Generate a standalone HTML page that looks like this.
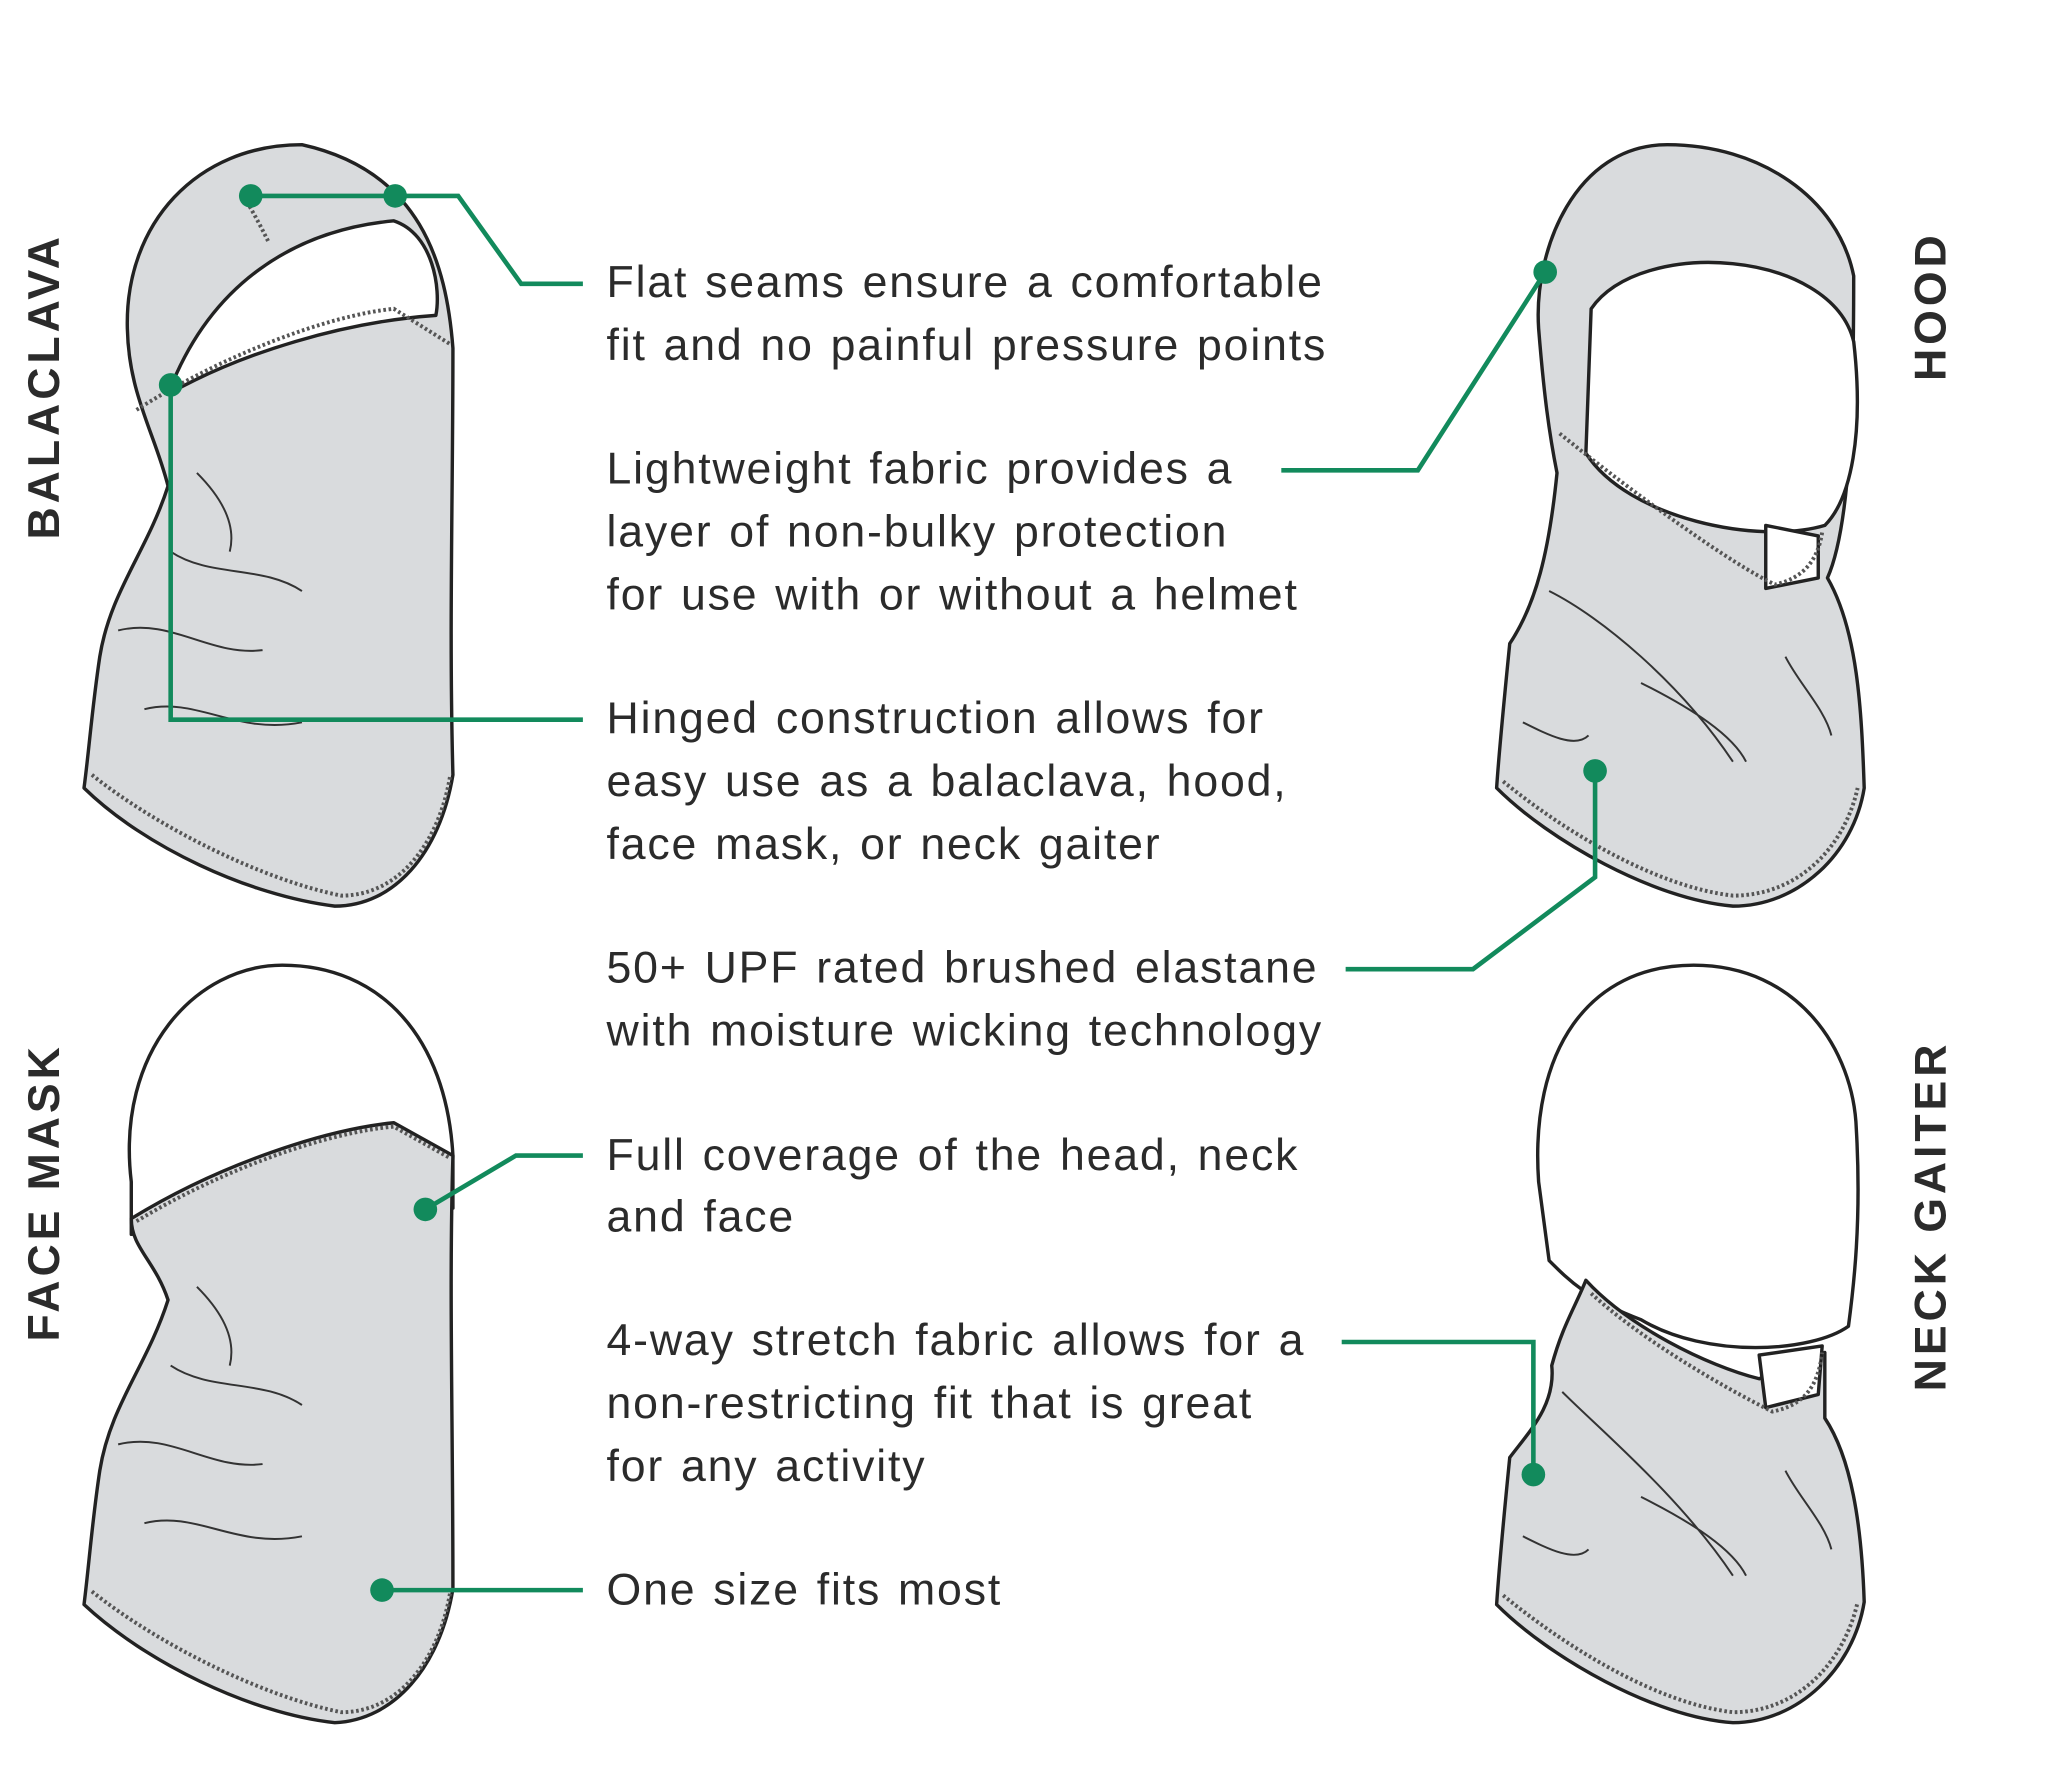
<!DOCTYPE html>
<html><head><meta charset="utf-8"><style>
html,body{margin:0;padding:0;background:#fff;}
svg{display:block;}
text{font-family:"Liberation Sans",sans-serif;fill:#2b2b2b;}
.t{font-size:34px;letter-spacing:1.4px;word-spacing:2px;}
.v{font-size:34px;font-weight:bold;letter-spacing:3px;}
.g{fill:#d9dbdd;stroke:#222;stroke-width:2.6;stroke-linejoin:round;}
.w{fill:#fff;stroke:#222;stroke-width:2.6;stroke-linejoin:round;}
.s{fill:none;stroke:#555;stroke-width:3;stroke-dasharray:2 2;}
.f{fill:none;stroke:#333;stroke-width:1.5;}
.gr{fill:none;stroke:#128a5c;stroke-width:3.5;}
.d{fill:#128a5c;}
</style></head><body>
<svg width="2048" height="1765" viewBox="0 0 1560 1344" xmlns="http://www.w3.org/2000/svg">
<!-- BALACLAVA -->
<path class="g" d="M230 110 C150 110 95 170 97 250 C98 300 118 330 128 370 C112 420 84 450 76 500 C70 540 68 570 64 600 C110 645 190 682 255 690 C300 690 335 650 345 590 C342 480 345 380 345 265 C340 200 320 130 230 110 Z"/>
<path class="w" d="M128 300 C160 215 225 175 300 168 C330 178 336 220 332 240 C262 245 185 268 128 300 Z"/>
<path class="s" d="M104 312 C170 270 250 240 300 235 L343 262"/>
<path class="s" d="M70 590 C120 630 200 670 260 682 C305 682 335 640 343 590"/>
<path class="s" d="M186 150 C195 165 200 175 205 185"/>
<path class="f" d="M130 420 C160 440 200 430 230 450 M90 480 C130 470 160 500 200 495 M110 540 C150 530 180 560 230 550 M150 360 C170 380 180 400 175 420"/>
<!-- FACE MASK -->
<path class="w" d="M100 900 C88 800 150 735 215 735 C290 735 340 790 345 880 L345 920 L100 940 Z"/>
<path class="g" d="M100 928 C170 885 250 860 300 855 L345 880 C342 980 345 1080 345 1210 C335 1270 300 1310 255 1312 C190 1305 110 1265 64 1222 C68 1190 70 1160 76 1120 C84 1070 112 1040 128 990 C118 960 100 950 100 928 Z"/>
<path class="s" d="M104 930 C170 890 250 862 300 858 L343 882"/>
<path class="s" d="M70 1212 C120 1252 200 1292 260 1304 C305 1304 335 1262 343 1212"/>
<path class="f" d="M130 1040 C160 1060 200 1050 230 1070 M90 1100 C130 1090 160 1120 200 1115 M110 1160 C150 1150 180 1180 230 1170 M150 980 C170 1000 180 1020 175 1040"/>
<!-- HOOD -->
<path class="g" d="M1270 110 C1200 110 1168 190 1172 250 C1176 300 1180 330 1186 360 C1180 420 1170 460 1150 490 C1145 540 1142 570 1140 600 C1180 640 1260 685 1320 690 C1370 690 1412 650 1420 600 C1418 540 1415 480 1392 440 C1410 400 1412 300 1412 210 C1400 150 1340 110 1270 110 Z"/>
<path class="w" d="M1212 235 C1250 180 1395 190 1412 260 C1420 330 1410 380 1390 400 C1340 415 1240 395 1208 345 Z"/>
<path class="w" d="M1345 400 L1385 408 L1385 440 L1345 448 Z"/>
<path class="s" d="M1188 330 C1250 380 1320 430 1352 445 C1375 440 1385 425 1388 405"/>
<path class="s" d="M1145 595 C1190 632 1260 675 1320 682 C1370 682 1405 645 1415 600"/>
<path class="f" d="M1180 450 C1220 470 1280 520 1320 580 M1250 520 C1290 540 1320 560 1330 580 M1360 500 C1370 520 1390 540 1395 560 M1160 550 C1180 560 1200 570 1210 560"/>
<!-- NECK GAITER -->
<path class="w" d="M1172 900 C1165 800 1210 735 1290 735 C1370 735 1412 800 1414 860 C1418 930 1412 980 1408 1010 C1380 1030 1300 1035 1250 1005 C1210 990 1195 975 1180 960 Z"/>
<path class="g" d="M1208 975 C1240 1010 1300 1040 1340 1050 L1390 1030 L1390 1080 C1410 1110 1418 1160 1420 1220 C1412 1270 1370 1312 1320 1312 C1260 1308 1180 1262 1140 1222 C1142 1192 1145 1160 1150 1110 C1165 1090 1185 1070 1182 1040 C1190 1010 1200 995 1208 975 Z"/>
<path class="w" d="M1340 1032 L1388 1025 L1385 1062 L1345 1072 Z"/>
<path class="s" d="M1212 985 C1250 1020 1310 1055 1350 1075 C1375 1070 1385 1055 1388 1030"/>
<path class="s" d="M1145 1215 C1190 1252 1260 1297 1320 1304 C1370 1304 1405 1265 1415 1220"/>
<path class="f" d="M1190 1060 C1220 1090 1280 1140 1320 1200 M1250 1140 C1290 1160 1320 1180 1330 1200 M1360 1120 C1370 1140 1390 1160 1395 1180 M1160 1170 C1180 1180 1200 1190 1210 1180"/>
<!-- connectors -->
<polyline class="gr" points="191,149 349,149 397,216 444,216"/>
<circle class="d" cx="191" cy="149" r="9"/><circle class="d" cx="301" cy="149" r="9"/>
<polyline class="gr" points="976,358 1080,358 1177,207"/><circle class="d" cx="1177" cy="207" r="9"/>
<polyline class="gr" points="130,293 130,548 444,548"/><circle class="d" cx="130" cy="293" r="9"/>
<polyline class="gr" points="1025,738 1122,738 1215,668 1215,587"/><circle class="d" cx="1215" cy="587" r="9"/>
<polyline class="gr" points="444,880 393,880 324,921"/><circle class="d" cx="324" cy="921" r="9"/>
<polyline class="gr" points="1022,1022 1168,1022 1168,1123"/><circle class="d" cx="1168" cy="1123" r="9"/>
<polyline class="gr" points="444,1211 291,1211"/><circle class="d" cx="291" cy="1211" r="9"/>
<!-- texts -->
<text class="t" x="462" y="226">Flat seams ensure a comfortable</text>
<text class="t" x="462" y="274">fit and no painful pressure points</text>
<text class="t" x="462" y="368">Lightweight fabric provides a</text>
<text class="t" x="462" y="416">layer of non-bulky protection</text>
<text class="t" x="462" y="464">for use with or without a helmet</text>
<text class="t" x="462" y="558">Hinged construction allows for</text>
<text class="t" x="462" y="606">easy use as a balaclava, hood,</text>
<text class="t" x="462" y="654">face mask, or neck gaiter</text>
<text class="t" x="462" y="748">50+ UPF rated brushed elastane</text>
<text class="t" x="462" y="796">with moisture wicking technology</text>
<text class="t" x="462" y="891">Full coverage of the head, neck</text>
<text class="t" x="462" y="938">and face</text>
<text class="t" x="462" y="1032">4-way stretch fabric allows for a</text>
<text class="t" x="462" y="1080">non-restricting fit that is great</text>
<text class="t" x="462" y="1128">for any activity</text>
<text class="t" x="462" y="1222">One size fits most</text>
<text class="v" transform="translate(45,294) rotate(-90)" text-anchor="middle">BALACLAVA</text>
<text class="v" transform="translate(45,908) rotate(-90)" text-anchor="middle">FACE MASK</text>
<text class="v" transform="translate(1482,233) rotate(-90)" text-anchor="middle">HOOD</text>
<text class="v" transform="translate(1482,926) rotate(-90)" text-anchor="middle">NECK GAITER</text>
</svg>
</body></html>
